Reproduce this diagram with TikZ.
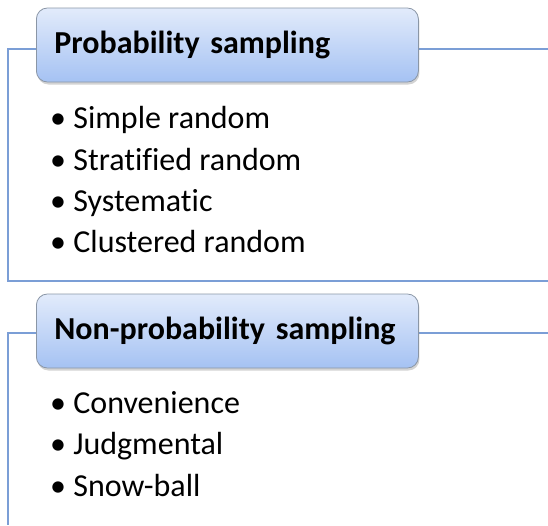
\documentclass[tikz,border=0pt]{standalone}
\usepackage{fontspec}
\setmainfont{Carlito}[Ligatures=NoCommon]
\usetikzlibrary{shadows}

\definecolor{frameblue}{HTML}{7B9ED6}
\definecolor{boxtop}{HTML}{E2EBFB}
\definecolor{boxbottom}{HTML}{A5C2F3}
\definecolor{boxrim}{HTML}{8A96A6}

\tikzset{
  headbox/.style={draw=boxrim, line width=0.8pt, rounded corners=11pt,
    top color=boxtop, bottom color=boxbottom,
    drop shadow={shadow xshift=1pt, shadow yshift=-2.5pt, opacity=0.35},
    minimum width=382pt, minimum height=74pt, text width=346pt,
    inner xsep=18pt, anchor=west, font=\fontsize{32}{38}\selectfont\bfseries},
  item/.style={anchor=west, inner sep=0pt, text height=0.7em, text depth=0.2em,
    font=\fontsize{32}{38}\selectfont},
  frame/.style={draw=frameblue, line width=1.2pt}
}

\begin{document}
\begin{tikzpicture}[x=1pt, y=-1pt]
\useasboundingbox (0,0) rectangle (548,525);

%% frame corners
\coordinate (tl1) at (8,49);
\coordinate (tr1) at (548,49);
\coordinate (bl1) at (8,281);
\coordinate (br1) at (548,281);
\coordinate (tl2) at (8,333);
\coordinate (tr2) at (548,333);
\coordinate (bl2) at (8,525);

%%% frames
\draw[frame] (tr1) -- (tl1) -- (bl1) -- (br1);  %% probability
\draw[frame] (tr2) -- (tl2) -- (bl2);           %% non-probability

%% heading boxes
\node[headbox] (prob) at (36,45) {Probability sampling};
\node[headbox] (nonprob) at (36,331) {Non-probability sampling};

%% items
\node[item] (simple) at (50,126) {\textbullet\ Simple random};
\node[item] (strat)  at (50,168) {\textbullet\ Stratified random};
\node[item] (syst)   at (50,209) {\textbullet\ Systematic};
\node[item] (clust)  at (50,250) {\textbullet\ Clustered random};

\node[item] (conv)   at (50,411) {\textbullet\ Convenience};
\node[item] (judg)   at (50,452) {\textbullet\ Judgmental};
\node[item] (snow)   at (50,494) {\textbullet\ Snow-ball};
\end{tikzpicture}
\end{document}
